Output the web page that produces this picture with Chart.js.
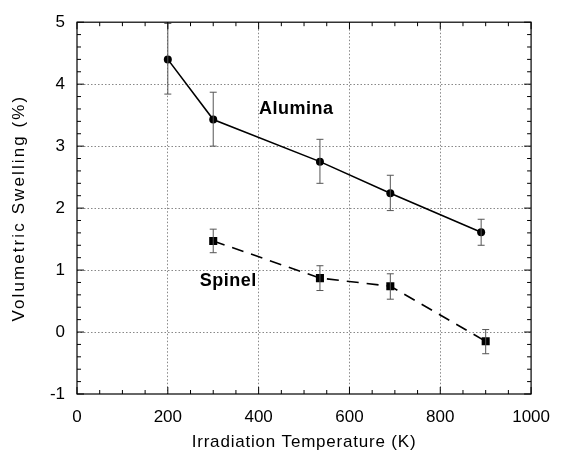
<!DOCTYPE html>
<html><head><meta charset="utf-8">
<script src="https://cdn.jsdelivr.net/npm/chart.js@4"></script>
<style>html,body{margin:0;padding:0;background:#fff}#wrap{width:563px;height:454px}</style>
</head><body><div id="wrap"><canvas id="c" width="563" height="454"></canvas></div>
<script>
const aluminaX = [200, 300, 535, 690, 890];
const aluminaY = [4.40, 3.43, 2.75, 2.24, 1.61];
const aluminaLo = [3.84, 3.00, 2.40, 1.96, 1.40];
const aluminaHi = [4.98, 3.87, 3.11, 2.53, 1.82];
const spinelX = [300, 535, 690, 900];
const spinelY = [1.47, 0.87, 0.74, -0.15];
const spinelLo = [1.28, 0.67, 0.53, -0.35];
const spinelHi = [1.66, 1.07, 0.94, 0.04];
const xTicks = [0, 200, 400, 600, 800, 1000];
const yTicks = [-1, 0, 1, 2, 3, 4, 5];
const seriesLabels = [{text: 'Alumina', x: 483, y: 3.60}, {text: 'Spinel', x: 333, y: 0.815}];
const xTitle = 'Irradiation Temperature (K)';
const yTitle = 'Volumetric Swelling (%)';

const FONT = "'Liberation Sans', Arial, Helvetica, sans-serif";

const pts = (xs, ys, lo, hi) => xs.map((x, i) => ({x, y: ys[i], lo: lo[i], hi: hi[i]}));

const decor = {
  id: 'decor',
  afterDatasetsDraw(chart) {
    const {ctx, chartArea: a, scales: {x, y}} = chart;
    ctx.save();
    // error bars
    ctx.strokeStyle = '#555';
    ctx.lineWidth = 1;
    chart.data.datasets.forEach(ds => {
      ds.data.forEach(p => {
        const px = x.getPixelForValue(p.x);
        const t = y.getPixelForValue(p.hi), b = y.getPixelForValue(p.lo);
        ctx.beginPath();
        ctx.moveTo(px, t); ctx.lineTo(px, b);
        ctx.moveTo(px - 3.5, t); ctx.lineTo(px + 3.5, t);
        ctx.moveTo(px - 3.5, b); ctx.lineTo(px + 3.5, b);
        ctx.stroke();
      });
    });
    // frame
    ctx.strokeStyle = '#000';
    ctx.lineWidth = 1.2;
    ctx.strokeRect(a.left, a.top, a.right - a.left, a.bottom - a.top);
    // inside ticks
    ctx.lineWidth = 1;
    ctx.beginPath();
    for (let v = 0; v <= 1000; v += 50) {
      const px = x.getPixelForValue(v);
      const len = v % 200 === 0 ? 7 : 4;
      ctx.moveTo(px, a.bottom); ctx.lineTo(px, a.bottom - len);
      ctx.moveTo(px, a.top); ctx.lineTo(px, a.top + len);
    }
    for (let k = -5; k <= 25; k++) {
      const v = k / 5;
      const py = y.getPixelForValue(v);
      const len = k % 5 === 0 ? 7 : 4;
      ctx.moveTo(a.left, py); ctx.lineTo(a.left + len, py);
      ctx.moveTo(a.right, py); ctx.lineTo(a.right - len, py);
    }
    ctx.stroke();
    // series labels
    ctx.fillStyle = '#000';
    ctx.font = 'bold 18px ' + FONT;
    ctx.textAlign = 'center';
    ctx.textBaseline = 'middle';
    ctx.letterSpacing = '0.5px';
    seriesLabels.forEach(l => ctx.fillText(l.text, x.getPixelForValue(l.x), y.getPixelForValue(l.y)));
    // axis titles
    ctx.font = '17px ' + FONT;
    ctx.letterSpacing = '0.8px';
    ctx.fillText(xTitle, (a.left + a.right) / 2, 442);
    ctx.letterSpacing = '2.1px';
    ctx.translate(19, (a.top + a.bottom) / 2);
    ctx.rotate(-Math.PI / 2);
    ctx.fillText(yTitle, 0, 0);
    ctx.restore();
  }
};

const gridColor = ctx => (ctx.tick && (ctx.index === 0 || ctx.index === ctx.scale.ticks.length - 1)) ? 'rgba(0,0,0,0)' : '#888';

new Chart(document.getElementById('c'), {
  type: 'scatter',
  data: {
    datasets: [
      {
        label: 'Alumina',
        data: pts(aluminaX, aluminaY, aluminaLo, aluminaHi),
        showLine: true,
        borderColor: '#000',
        backgroundColor: '#000',
        borderWidth: 1.6,
        pointStyle: 'circle',
        pointRadius: 4,
        pointBorderWidth: 0
      },
      {
        label: 'Spinel',
        data: pts(spinelX, spinelY, spinelLo, spinelHi),
        showLine: true,
        borderColor: '#000',
        backgroundColor: '#000',
        borderWidth: 1.6,
        borderDash: [12, 8],
        pointStyle: 'rect',
        pointRadius: 5.7,
        pointBorderWidth: 0
      }
    ]
  },
  options: {
    responsive: false,
    animation: false,
    devicePixelRatio: 1,
    layout: {padding: {left: 0, right: 23, top: 17, bottom: 0}},
    plugins: {legend: {display: false}, tooltip: {enabled: false}},
    scales: {
      x: {
        type: 'linear', min: 0, max: 1000,
        afterBuildTicks: s => { s.ticks = xTicks.map(v => ({value: v})); },
        afterFit: s => { s.height = 60; },
        grid: {color: gridColor, drawTicks: false, lineWidth: 1},
        border: {display: false, dash: [1.5, 2]},
        ticks: {padding: 13, color: '#000', font: {family: FONT, size: 17}, maxRotation: 0, callback: v => String(v)}
      },
      y: {
        type: 'linear', min: -1, max: 5,
        afterBuildTicks: s => { s.ticks = yTicks.map(v => ({value: v})); },
        afterFit: s => { s.width = 77; },
        grid: {color: gridColor, drawTicks: false, lineWidth: 1},
        border: {display: false, dash: [1.5, 2]},
        ticks: {padding: 12, color: '#000', font: {family: FONT, size: 17}, callback: v => String(v)}
      }
    }
  },
  plugins: [decor]
});
</script>
</body></html>
